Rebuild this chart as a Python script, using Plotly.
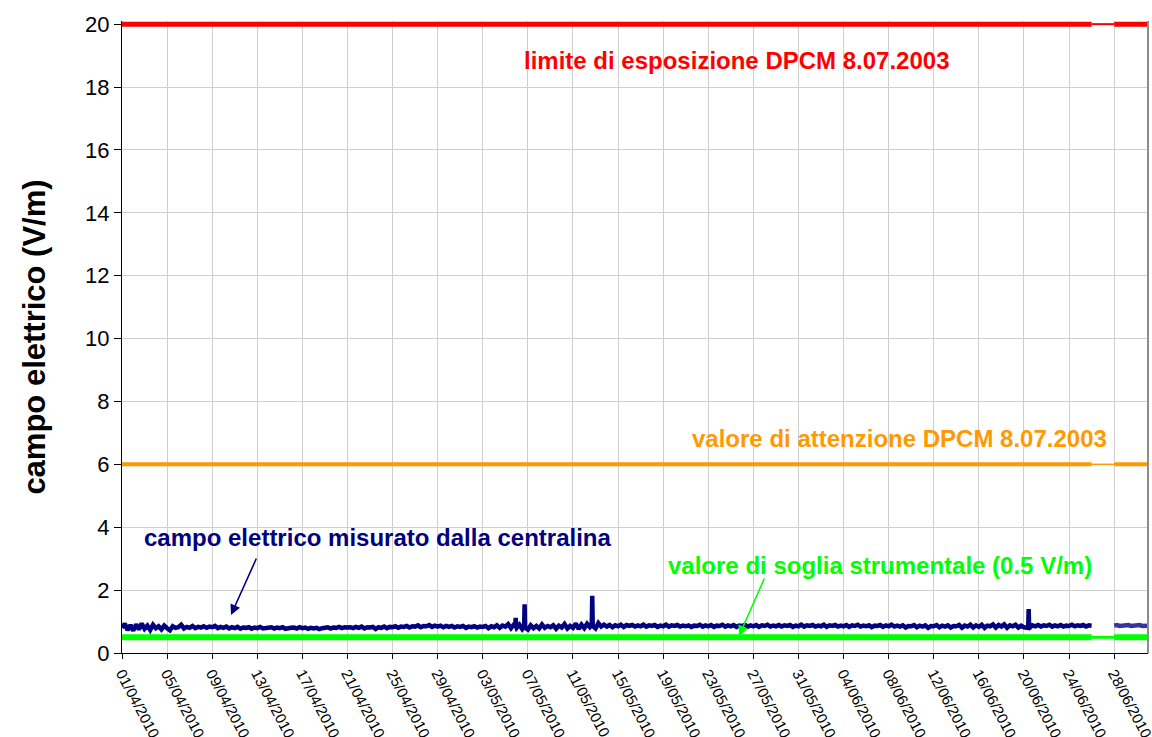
import pandas as pd
import plotly.graph_objects as go

# ---------------- data ----------------
# measured electric field (V/m), 6-hourly samples starting 01/04/2010 00:00
field_start_1 = "2010-04-01 00:00"
field_values_1 = [
    # April
    0.80, 0.93, 0.73, 0.89,  # 01
    0.71, 0.91, 0.75, 0.94,  # 02
    0.77, 0.87, 0.73, 0.90,  # 03
    0.79, 0.85, 0.75, 0.87,  # 04
    0.79, 0.72, 0.85, 0.80,  # 05
    0.82, 0.90, 0.78, 0.83,  # 06
    0.80, 0.86, 0.79, 0.83,  # 07
    0.81, 0.85, 0.80, 0.84,  # 08
    0.82, 0.86, 0.79, 0.83,  # 09
    0.80, 0.84, 0.78, 0.82,  # 10
    0.79, 0.83, 0.77, 0.81,  # 11
    0.80, 0.82, 0.77, 0.81,  # 12
    0.79, 0.83, 0.78, 0.80,  # 13
    0.80, 0.82, 0.78, 0.81,  # 14
    0.79, 0.82, 0.77, 0.80,  # 15
    0.80, 0.81, 0.78, 0.82,  # 16
    0.79, 0.81, 0.77, 0.80,  # 17
    0.78, 0.80, 0.76, 0.79,  # 18
    0.79, 0.82, 0.78, 0.81,  # 19
    0.80, 0.83, 0.79, 0.82,  # 20
    0.81, 0.82, 0.79, 0.83,  # 21
    0.80, 0.84, 0.78, 0.82,  # 22
    0.81, 0.83, 0.76, 0.82,  # 23
    0.80, 0.84, 0.79, 0.83,  # 24
    0.82, 0.85, 0.80, 0.84,  # 25
    0.83, 0.86, 0.81, 0.85,  # 26
    0.84, 0.88, 0.82, 0.86,  # 27
    0.85, 0.89, 0.83, 0.87,  # 28
    0.84, 0.87, 0.82, 0.86,  # 29
    0.83, 0.86, 0.81, 0.85,  # 30
    # May
    0.83, 0.86, 0.80, 0.84,  # 01
    0.82, 0.85, 0.81, 0.84,  # 02
    0.83, 0.86, 0.79, 0.85,  # 03
    0.82, 0.88, 0.80, 0.87,  # 04
    0.84, 0.92, 0.79, 0.90,  # 05
    0.80, 0.90, 0.76, 0.80,  # 06
    0.74, 0.88, 0.79, 0.86,  # 07
    0.78, 0.91, 0.80, 0.86,  # 08
    0.82, 0.88, 0.77, 0.87,  # 09
    0.81, 0.92, 0.78, 0.86,  # 10
    0.80, 0.94, 0.76, 0.90,  # 11
    0.79, 0.93, 0.82, 0.86,  # 12
    0.78, 0.95, 0.84, 0.90,  # 13
    0.84, 0.89, 0.82, 0.88,  # 14
    0.85, 0.90, 0.83, 0.89,  # 15
    0.86, 0.89, 0.84, 0.88,  # 16
    0.85, 0.90, 0.84, 0.88,  # 17
    0.86, 0.89, 0.83, 0.87,  # 18
    0.85, 0.90, 0.84, 0.88,  # 19
    0.86, 0.89, 0.84, 0.87,  # 20
    0.85, 0.88, 0.83, 0.87,  # 21
    0.86, 0.90, 0.84, 0.88,  # 22
    0.85, 0.89, 0.83, 0.87,  # 23
    0.86, 0.90, 0.84, 0.88,  # 24
    0.85, 0.89, 0.83, 0.87,  # 25
    0.86, 0.90, 0.84, 0.88,  # 26
    0.85, 0.89, 0.83, 0.88,  # 27
    0.86, 0.90, 0.84, 0.87,  # 28
    0.85, 0.89, 0.84, 0.88,  # 29
    0.86, 0.89, 0.83, 0.87,  # 30
    0.85, 0.90, 0.84, 0.88,  # 31
    # June
    0.86, 0.89, 0.84, 0.87,  # 01
    0.85, 0.90, 0.83, 0.88,  # 02
    0.86, 0.89, 0.84, 0.87,  # 03
    0.85, 0.89, 0.83, 0.88,  # 04
    0.86, 0.90, 0.84, 0.87,  # 05
    0.85, 0.88, 0.82, 0.87,  # 06
    0.86, 0.89, 0.83, 0.88,  # 07
    0.85, 0.90, 0.84, 0.87,  # 08
    0.84, 0.88, 0.81, 0.86,  # 09
    0.85, 0.89, 0.82, 0.87,  # 10
    0.84, 0.88, 0.80, 0.86,  # 11
    0.85, 0.89, 0.82, 0.87,  # 12
    0.84, 0.88, 0.81, 0.86,  # 13
    0.85, 0.89, 0.80, 0.87,  # 14
    0.84, 0.90, 0.81, 0.88,  # 15
    0.83, 0.90, 0.80, 0.87,  # 16
    0.85, 0.91, 0.81, 0.89,  # 17
    0.84, 0.91, 0.80, 0.88,  # 18
    0.85, 0.90, 0.81, 0.87,  # 19
    0.82, 0.80, 0.80, 0.88,  # 20
    0.85, 0.89, 0.84, 0.88,  # 21
    0.86, 0.90, 0.84, 0.88,  # 22
    0.85, 0.89, 0.84, 0.87,  # 23
    0.86, 0.90, 0.85, 0.88,  # 24
    0.86, 0.89, 0.84, 0.88,  # 25
    0.87,                    # 26 00:00
]

# hourly readings around the short peaks
peak_times = ["2010-05-05 21:00", "2010-05-05 22:00", "2010-05-05 23:00",
              "2010-05-06 16:00", "2010-05-06 17:00",
              "2010-05-12 16:00", "2010-05-12 17:00",
              "2010-06-20 09:00", "2010-06-20 10:00", "2010-06-20 11:00"]
peak_values = [0.86, 1.12, 0.84,
               0.84, 1.55,
               0.88, 1.82,
               0.80, 1.40, 0.77]

# second measurement period (after the interruption), 6-hourly
field_start_2 = "2010-06-28 00:00"
field_values_2 = [0.87, 0.89, 0.86, 0.88, 0.87, 0.89, 0.86,
                  0.88, 0.87, 0.89, 0.86, 0.88, 0.87]

# reference levels (V/m)
limit_exposure = 20.0
attention_value = 6.0
instrument_threshold = 0.5

# period boundaries: start, start of the gap, end of the gap, end
period_dates = ["2010-04-01", "2010-06-26", "2010-06-28", "2010-07-01"]

tick_start = "2010-04-01"
tick_step_days = 4

# ---------------- figure ----------------
FONT = "Liberation Sans, Arial, sans-serif"
NAVY = "#000080"
NAVY_LIGHT = "#35359C"
RED = "#FF0000"
ORANGE = "#FF9900"
GREEN = "#00FF00"

s1 = pd.concat([
    pd.Series(field_values_1, index=pd.date_range(field_start_1, periods=len(field_values_1), freq="6h")),
    pd.Series(peak_values, index=pd.to_datetime(peak_times)),
]).sort_index()
s2 = pd.Series(field_values_2, index=pd.date_range(field_start_2, periods=len(field_values_2), freq="6h"))

fig = go.Figure()


def level_traces(value, color, width):
    # thick during the measurement periods, thin across the gap
    segs = [(0, 1, width), (1, 2, max(1.5, width - 3)), (2, 3, width)]
    for a, b, w in segs:
        fig.add_trace(go.Scatter(x=[period_dates[a], period_dates[b]], y=[value, value],
                                 mode="lines", line=dict(color=color, width=w),
                                 showlegend=False, hoverinfo="skip", cliponaxis=False))


level_traces(instrument_threshold, GREEN, 6)
level_traces(attention_value, ORANGE, 4)
level_traces(limit_exposure, RED, 5)

fig.add_trace(go.Scatter(x=s1.index, y=s1.values, mode="lines",
                         line=dict(color=NAVY, width=4.5), showlegend=False))
fig.add_trace(go.Scatter(x=s2.index, y=s2.values, mode="lines",
                         line=dict(color=NAVY_LIGHT, width=4.5), showlegend=False))

# plot area in pixels: x 122..1148, y 21..653
L, R, T, B = 122, 1148, 21, 653
W, H = R - L, B - T


def px(xp):
    return (xp - L) / W


def py(yp):
    return (B - yp) / H


ann_font = dict(family=FONT, size=24)
texts = [
    ("<b>limite di esposizione DPCM 8.07.2003</b>", 736.5, 60, RED),
    ("<b>valore di attenzione DPCM 8.07.2003</b>", 899, 438, ORANGE),
    ("<b>campo elettrico misurato dalla centralina</b>", 377.5, 537, NAVY),
    ("<b>valore di soglia strumentale (0.5 V/m)</b>", 880, 565, GREEN),
]
for t, xp, yp, c in texts:
    fig.add_annotation(text=t, x=px(xp), y=py(yp), xref="paper", yref="paper",
                       xanchor="center", yanchor="middle",
                       showarrow=False, font=dict(ann_font, color=c))

# arrows
fig.add_annotation(text="", x=px(231), y=py(615), xref="paper", yref="paper",
                   ax=26, ay=-58, showarrow=True, arrowhead=2, arrowsize=1.3,
                   arrowwidth=1.6, arrowcolor=NAVY)
fig.add_annotation(text="", x=px(739), y=py(636), xref="paper", yref="paper",
                   ax=26, ay=-59, showarrow=True, arrowhead=2, arrowsize=1.3,
                   arrowwidth=1.6, arrowcolor=GREEN)

# right border of the plot area
fig.add_shape(type="line", xref="paper", yref="paper", x0=1, x1=1, y0=0, y1=1,
              line=dict(color="#8C8C8C", width=2))

fig.update_layout(
    width=1152, height=737,
    margin=dict(l=L, r=1152 - R, t=T, b=737 - B, pad=0),
    paper_bgcolor="white", plot_bgcolor="white",
    font=dict(family=FONT, color="black"),
    showlegend=False,
)

fig.update_xaxes(
    type="date",
    range=[period_dates[0], period_dates[3]],
    tick0=tick_start, dtick=tick_step_days * 86400000,
    tickformat="%d/%m/%Y", tickangle=62,
    tickfont=dict(family=FONT, size=15, color="black"),
    ticklabeloverflow="allow",
    ticks="outside", ticklen=5, tickcolor="black",
    showline=True, linecolor="black", linewidth=1,
    showgrid=True, gridcolor="#CFCFCF", gridwidth=1,
    zeroline=False, automargin=False,
)

fig.update_yaxes(
    range=[0, 20.1], tick0=0, dtick=2,
    tickfont=dict(family=FONT, size=22, color="black"),
    ticks="outside", ticklen=7, tickcolor="black",
    showline=True, linecolor="black", linewidth=1,
    showgrid=True, gridcolor="#CFCFCF", gridwidth=1,
    zeroline=False, automargin=False,
    title=dict(text="<b>campo elettrico (V/m)</b>",
               font=dict(family=FONT, size=31, color="black"), standoff=30),
)

fig.write_html("out.html",
               config={"displayModeBar": False},
               post_script="document.body.style.margin='0';document.body.style.overflow='hidden';")
